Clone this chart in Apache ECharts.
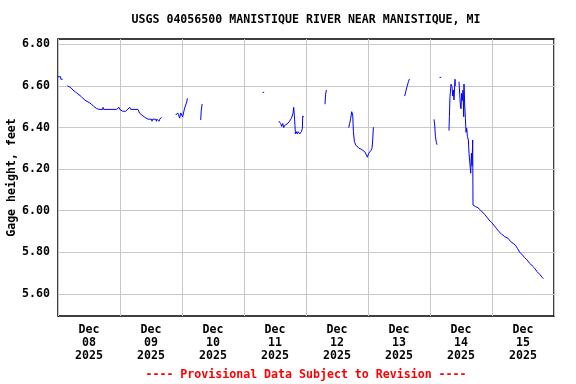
<!DOCTYPE html>
<html>
<head>
<meta charset="utf-8">
<script src="https://cdn.jsdelivr.net/npm/echarts@6/dist/echarts.min.js"></script>
<style>
html,body{margin:0;padding:0;background:#fff;}
#chart{width:576px;height:384px;}
</style>
</head>
<body>
<div id="chart"></div>
<script>
// Hours since 2025-12-08 00:00 (null gage value = gap in record)
var hours = [
  0, 1.0, 1.1, 1.8, 2.6,
  3.64, 4.92, 5.81, 6.74, 7.74, 9.06, 10.34, 11.61, 12.93, 13.94, 14.86, 15.37, 15.48, 15.76, 17.3, 17.42, 17.69, 22.7, 22.84, 23.1, 23.6, 23.9, 24.4, 24.66, 25.05, 25.55, 26.2, 26.6, 27.76, 28.14, 28.4, 28.65, 30.97, 31.63, 32.52, 33.56, 34.84, 36.16, 36.39, 36.66, 37.82, 38.09, 38.3, 39.0, 39.1, 39.4, 39.75, 40.03, 41,
  45.56, 46.34, 47.11, 47.5, 48.27, 48.66, 49.05, 49.43, 49.82, 50.1, 51,
  55.24, 55.43, 55.8, 57,
  79.2, 79.8, 81,
  85.44, 86.21, 86.6, 87.0, 87.37, 87.76, 88.53, 89.03, 89.69, 90.35, 90.97, 91.24, 91.63, 91.9, 92.29, 92.6, 92.98, 93.56, 94.22, 94.6, 94.72, 95.11, 96,
  103.36, 103.6, 103.9, 105,
  112.53, 112.92, 113.3, 113.7, 114.08, 114.35, 114.74, 115.24, 115.74, 116.52, 117.44, 118.06, 118.72, 119.38, 119.77, 120.27, 120.66, 121.05, 121.55, 121.82, 122.09, 123,
  134.21, 134.6, 135.1, 135.64, 136.03, 137,
  145.55, 145.82, 146.1, 146.48, 146.71, 147.3,
  147.7, 148.3, 148.6,
  151.35, 151.5, 151.74, 152.13, 152.52, 152.79, 153.06, 153.29, 153.68, 153.8, 154.5,
  155.23, 155.5, 155.77, 156.0, 156.27, 156.54, 156.77, 157.04, 157.16, 157.43, 157.7, 157.94, 158.21, 158.48, 158.86, 159.1, 159.49, 159.76, 160.03, 160.26, 160.53, 160.65,
  161.69, 162.58, 163.51, 164.28, 165.17, 166.06, 166.84, 167.77, 168.66, 169.7, 170.71, 171.64, 172.92, 174.19, 175.24, 176.13, 177.06, 177.83, 178.72, 179.77, 180.66, 181.55, 182.6, 183.64, 184.53, 185.42, 186.47, 187.51, 187.9
];
var gage = [
  6.644, 6.644, 6.632, 6.632, null,
  6.600, 6.592, 6.580, 6.571, 6.561, 6.548, 6.532, 6.523, 6.513, 6.500, 6.492, 6.487, 6.497, 6.487, 6.487, 6.497, 6.487, 6.487, 6.478, 6.487, 6.497, 6.487, 6.478, 6.487, 6.478, 6.487, 6.478, 6.487, 6.497, 6.487, 6.478, 6.487, 6.487, 6.468, 6.459, 6.449, 6.440, 6.440, 6.430, 6.440, 6.440, 6.430, 6.440, 6.440, 6.430, 6.440, 6.449, 6.449, null,
  6.460, 6.470, 6.445, 6.470, 6.450, 6.475, 6.494, 6.503, 6.522, 6.540, null,
  6.436, 6.480, 6.513, null,
  6.569, 6.569, null,
  6.431, 6.419, 6.405, 6.419, 6.400, 6.410, 6.410, 6.420, 6.431, 6.444, 6.468, 6.497, 6.431, 6.369, 6.380, 6.369, 6.380, 6.369, 6.380, 6.396, 6.455, 6.452, null,
  6.512, 6.560, 6.580, null,
  6.399, 6.420, 6.444, 6.476, 6.460, 6.380, 6.332, 6.316, 6.308, 6.300, 6.295, 6.288, 6.284, 6.268, 6.257, 6.276, 6.268, 6.288, 6.300, 6.340, 6.401, null,
  6.551, 6.572, 6.596, 6.620, 6.633, null,
  6.439, 6.412, 6.356, 6.327, 6.317, null,
  6.641, 6.641, null,
  6.385, 6.452, 6.548, 6.608, 6.596, 6.551, 6.580, 6.532, 6.632, 6.600, null,
  6.620, 6.560, 6.508, 6.490, 6.564, 6.530, 6.580, 6.452, 6.609, 6.508, 6.444, 6.377, 6.396, 6.356, 6.340, 6.276, 6.220, 6.180, 6.276, 6.216, 6.340, 6.027,
  6.019, 6.014, 6.003, 5.995, 5.982, 5.968, 5.955, 5.944, 5.931, 5.915, 5.899, 5.888, 5.875, 5.867, 5.851, 5.843, 5.834, 5.819, 5.800, 5.787, 5.774, 5.763, 5.747, 5.734, 5.723, 5.707, 5.694, 5.678, 5.673
];
var yTicks = [5.6, 5.8, 6.0, 6.2, 6.4, 6.6, 6.8];
var dayLabelHours = [12, 36, 60, 84, 108, 132, 156, 180];
var dayLabels = ['Dec\n08\n2025', 'Dec\n09\n2025', 'Dec\n10\n2025', 'Dec\n11\n2025', 'Dec\n12\n2025', 'Dec\n13\n2025', 'Dec\n14\n2025', 'Dec\n15\n2025'];
var titleText = 'USGS 04056500 MANISTIQUE RIVER NEAR MANISTIQUE, MI';
var yName = 'Gage height, feet';
var footerText = '---- Provisional Data Subject to Revision ----';

var FONT = '"DejaVu Sans Mono", "Liberation Mono", monospace';
var FS = 11.6;

var data = hours.map(function (h, i) { return [h, gage[i] === null ? '-' : gage[i]]; });

var chart = echarts.init(document.getElementById('chart'), null, {renderer: 'canvas'});
chart.setOption({
  animation: false,
  backgroundColor: '#ffffff',
  grid: {
    left: 58, right: 22, top: 39, bottom: 68,
    containLabel: false, outerBoundsMode: 'none',
    show: true, borderColor: '#000', borderWidth: 1.5, backgroundColor: 'transparent'
  },
  graphic: [
    {type: 'text', x: 306, y: 20, style: {text: titleText, fontFamily: FONT, fontWeight: 'bold', fontSize: FS, fill: '#000', textAlign: 'center', textVerticalAlign: 'middle'}},
    {type: 'text', x: 306, y: 375, style: {text: footerText, fontFamily: FONT, fontWeight: 'bold', fontSize: FS, fill: '#ff0000', textAlign: 'center', textVerticalAlign: 'middle'}}
  ],
  xAxis: {
    type: 'value', min: 0, max: 192, interval: 24,
    axisLine: {show: false},
    axisTick: {show: false},
    splitLine: {show: true, lineStyle: {color: '#c8c8c8', width: 1}},
    axisLabel: {
      customValues: dayLabelHours,
      margin: 7.5,
      lineHeight: 13,
      fontFamily: FONT, fontWeight: 'bold', fontSize: FS, color: '#000',
      formatter: function (v) {
        var idx = dayLabelHours.indexOf(Math.round(v));
        return idx >= 0 ? dayLabels[idx] : '';
      }
    }
  },
  yAxis: {
    type: 'value', min: 5.4935, max: 6.8255,
    name: yName, nameLocation: 'middle', nameRotate: 90, nameGap: 40,
    nameMoveOverlap: false,
    nameTextStyle: {fontFamily: FONT, fontWeight: 'bold', fontSize: FS, color: '#000'},
    axisLine: {show: false},
    axisTick: {show: false, customValues: yTicks},
    splitLine: {show: true, lineStyle: {color: '#c8c8c8', width: 1}},
    axisLabel: {
      customValues: yTicks,
      margin: 8,
      fontFamily: FONT, fontWeight: 'bold', fontSize: FS, color: '#000',
      formatter: function (v) { return v.toFixed(2); }
    }
  },
  series: [{
    type: 'line',
    data: data,
    showSymbol: false,
    connectNulls: false,
    lineStyle: {color: '#0000ff', width: 1},
    itemStyle: {color: '#0000ff'},
    z: 3
  }]
});
</script>
</body>
</html>
